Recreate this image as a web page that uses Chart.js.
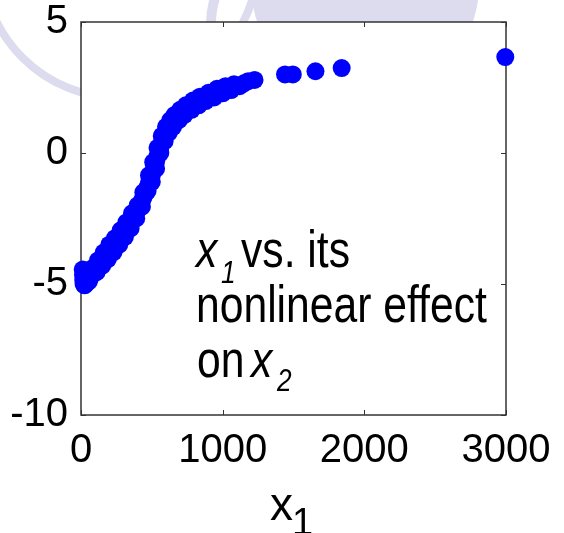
<!DOCTYPE html>
<html>
<head>
<meta charset="utf-8">
<script src="https://cdn.jsdelivr.net/npm/chart.js@4"></script>
<style>
  html, body { margin: 0; padding: 0; background: #fff; }
  #wrap { width: 564px; height: 533px; }
</style>
</head>
<body>
<div id="wrap"><canvas id="effectChart" width="564" height="533"></canvas></div>
<script>
// x1 values and the estimated nonlinear effect
const x1Values = [
  12, 14, 16, 18, 20, 22, 25, 28, 30, 34, 38, 42, 48, 55, 62,
  70, 80, 90, 100, 110, 120, 130, 140, 150, 160, 170, 180, 190, 200,
  210, 220, 230, 240, 250, 260, 270, 280, 290, 300, 310, 320, 330, 340,
  350, 360, 370, 380, 390, 400, 410, 420, 430, 440, 450, 460, 470, 480,
  490, 500, 510, 520, 530, 540, 550, 560, 570, 580, 590, 600, 615, 630,
  645, 660, 675, 690, 705, 720, 740, 760, 780, 800, 820, 840, 860, 880,
  900, 920, 940, 960, 985, 1010, 1040, 1070, 1100, 1150, 1225,
  1440, 1495, 1655, 1840, 2995,
  // upper side of the band
  80, 120, 160, 200, 240, 280, 320, 360, 400, 440, 480, 510, 540, 570,
  600, 630, 660, 700, 740, 790, 840, 900, 960, 1020, 1080, 1180,
  // lower side of the band
  110, 150, 190, 230, 270, 310, 350, 390, 430, 470, 500, 530, 560, 590,
  620, 650, 690, 730, 780, 830, 880, 940, 1000, 1060, 1120
];
const effectValues = [
  -4.45, -4.65, -4.85, -5.0, -4.55, -4.75, -5.05, -4.9, -4.6, -5.0, -4.8, -4.95, -4.85, -4.9, -4.8,
  -4.7, -4.62, -4.55, -4.5, -4.38, -4.32, -4.25, -4.2, -4.1, -4.05, -3.95, -3.92, -3.85, -3.75,
  -3.7, -3.62, -3.55, -3.5, -3.42, -3.35, -3.28, -3.2, -3.12, -3.05, -2.98, -2.9, -2.8, -2.72,
  -2.62, -2.55, -2.45, -2.35, -2.28, -2.18, -2.05, -1.95, -1.82, -1.7, -1.58, -1.45, -1.3, -1.15,
  -1.0, -0.85, -0.68, -0.5, -0.32, -0.12, 0.05, 0.22, 0.38, 0.52, 0.68, 0.8, 0.95, 1.05,
  1.12, 1.2, 1.3, 1.4, 1.48, 1.55, 1.62, 1.7, 1.78, 1.86, 1.92, 1.98, 2.03, 2.1,
  2.15, 2.2, 2.26, 2.3, 2.34, 2.4, 2.47, 2.52, 2.57, 2.66, 2.79,
  3.0, 3.0, 3.12, 3.24, 3.66,
  -4.4, -4.1, -3.8, -3.5, -3.25, -2.95, -2.65, -2.3, -2.0, -1.5, -0.85, -0.35, 0.2, 0.65,
  1.0, 1.25, 1.45, 1.65, 1.82, 2.0, 2.15, 2.3, 2.45, 2.55, 2.62, 2.74,
  -4.55, -4.3, -4.05, -3.78, -3.5, -3.2, -2.88, -2.5, -2.05, -1.45, -1.1, -0.6, 0.0, 0.45,
  0.78, 1.0, 1.25, 1.45, 1.65, 1.82, 1.98, 2.12, 2.28, 2.4, 2.55
];

const xTicks = [0, 1000, 2000, 3000];
const yTicks = [-10, -5, 0, 5];

const points = x1Values.map((x, i) => ({ x: x, y: effectValues[i] }));

// draws text squeezed sideways, the note uses a narrow face
function narrowText(ctx, text, x, y, font) {
  ctx.save();
  ctx.font = font;
  ctx.translate(x, y);
  ctx.scale(0.82, 1);
  ctx.fillText(text, 0, 0);
  ctx.restore();
}

const framePlugin = {
  id: 'frame',
  beforeDraw(chart) {
    const ctx = chart.ctx;
    const area = chart.chartArea;
    ctx.save();
    // faint logo behind the plot
    ctx.strokeStyle = 'rgb(220,220,238)';
    ctx.fillStyle = 'rgb(220,220,238)';
    ctx.lineWidth = 8;
    ctx.beginPath();
    ctx.arc(120, -40, 138, 0, Math.PI * 2);
    ctx.stroke();
    ctx.lineWidth = 10;
    ctx.beginPath();
    ctx.arc(300, 24, 89, 0, Math.PI * 2);
    ctx.stroke();
    ctx.beginPath();
    ctx.arc(365, -15, 114, 0, Math.PI * 2);
    ctx.fill();
    ctx.fillStyle = '#fff';
    ctx.fillRect(area.left, area.top, area.right - area.left, area.bottom - area.top);
    ctx.restore();
  },
  beforeDatasetsDraw(chart) {
    const ctx = chart.ctx;
    const area = chart.chartArea;
    const xs = chart.scales.x;
    const ys = chart.scales.y;
    ctx.save();
    ctx.strokeStyle = '#333';
    ctx.lineWidth = 1.5;
    ctx.strokeRect(area.left, area.top, area.right - area.left, area.bottom - area.top);
    ctx.lineWidth = 1;
    ctx.beginPath();
    xTicks.forEach(v => {
      const px = Math.round(xs.getPixelForValue(v)) + 0.5;
      ctx.moveTo(px, area.bottom); ctx.lineTo(px, area.bottom - 5);
      ctx.moveTo(px, area.top); ctx.lineTo(px, area.top + 5);
    });
    yTicks.forEach(v => {
      const py = Math.round(ys.getPixelForValue(v)) + 0.5;
      ctx.moveTo(area.left, py); ctx.lineTo(area.left + 5, py);
      ctx.moveTo(area.right, py); ctx.lineTo(area.right - 5, py);
    });
    ctx.stroke();
    ctx.restore();
  },
  afterDraw(chart) {
    const ctx = chart.ctx;
    ctx.save();
    ctx.fillStyle = '#000';
    ctx.textBaseline = 'alphabetic';
    // note inside the plot
    const reg = '52px "Liberation Sans", Arial, sans-serif';
    const ita = 'italic 52px "Liberation Sans", Arial, sans-serif';
    const sub = 'italic 32px "Liberation Sans", Arial, sans-serif';
    narrowText(ctx, 'x', 196, 267, ita);
    narrowText(ctx, '1', 221, 283, sub);
    narrowText(ctx, 'vs. its', 241, 267, reg);
    narrowText(ctx, 'nonlinear effect', 196, 322, reg);
    narrowText(ctx, 'on', 197, 377, reg);
    narrowText(ctx, 'x', 251, 377, ita);
    narrowText(ctx, '2', 277, 391, sub);
    // axis title x1
    ctx.font = '46px "Liberation Sans", Arial, sans-serif';
    ctx.fillText('x', 270, 520);
    ctx.font = '38px "Liberation Sans", Arial, sans-serif';
    ctx.fillText('1', 292, 535);
    ctx.restore();
  }
};

const ctx = document.getElementById('effectChart').getContext('2d');

new Chart(ctx, {
  type: 'scatter',
  data: {
    datasets: [{
      label: 'x1 effect',
      data: points,
      backgroundColor: '#0000ff',
      borderColor: '#0000ff',
      borderWidth: 0,
      pointRadius: 9,
      clip: false
    }]
  },
  options: {
    responsive: false,
    animation: false,
    layout: { padding: { top: 22, right: 58, left: 0, bottom: 0 } },
    plugins: {
      legend: { display: false },
      tooltip: { enabled: false }
    },
    scales: {
      x: {
        type: 'linear',
        min: 0,
        max: 3000,
        afterFit: scale => {
          scale.height = 118;
          scale.paddingLeft = 0;
          scale.paddingRight = 0;
        },
        afterBuildTicks: scale => { scale.ticks = xTicks.map(v => ({ value: v })); },
        grid: { display: false, drawTicks: false },
        border: { display: false },
        ticks: {
          padding: 12,
          maxRotation: 0,
          autoSkip: false,
          color: '#000',
          callback: v => String(v),
          font: { family: '"Liberation Sans", Arial, sans-serif', size: 40 }
        }
      },
      y: {
        type: 'linear',
        min: -10,
        max: 5,
        afterFit: scale => {
          scale.width = 81;
          scale.paddingTop = 0;
          scale.paddingBottom = 0;
        },
        afterBuildTicks: scale => { scale.ticks = yTicks.map(v => ({ value: v })); },
        grid: { display: false, drawTicks: false },
        border: { display: false },
        ticks: {
          padding: 13,
          autoSkip: false,
          color: '#000',
          callback: v => String(v),
          font: { family: '"Liberation Sans", Arial, sans-serif', size: 40 }
        }
      }
    }
  },
  plugins: [framePlugin]
});
</script>
</body>
</html>
